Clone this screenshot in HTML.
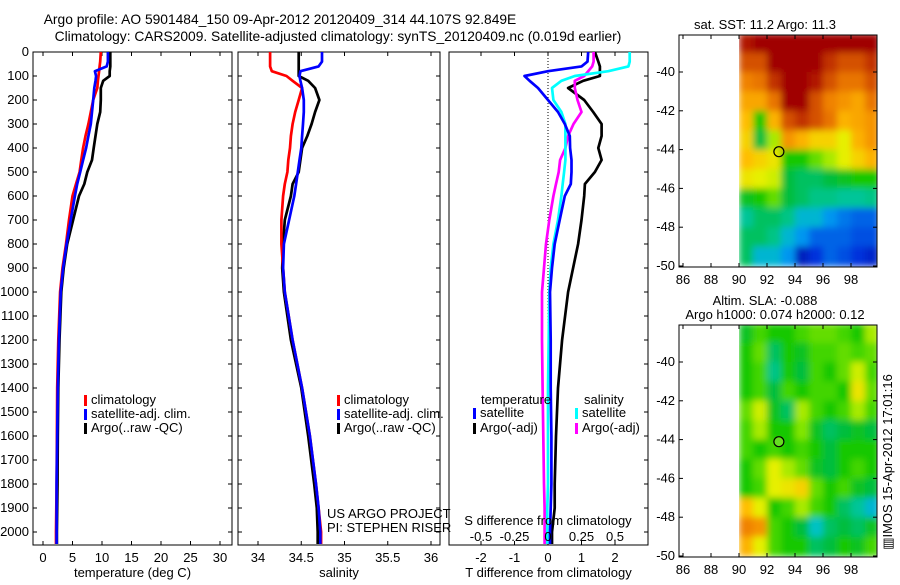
<!DOCTYPE html>
<html><head><meta charset="utf-8"><style>
body{margin:0;background:#fff;width:900px;height:580px;overflow:hidden}
svg{font-family:"Liberation Sans",sans-serif;font-size:13px}
</style></head><body>
<svg id="c" width="900" height="580" xmlns="http://www.w3.org/2000/svg">
<defs><filter id="bl" x="0" y="0" width="1" height="1"><feGaussianBlur stdDeviation="3.5" edgeMode="duplicate"/></filter></defs>
</svg>
<script>
const depths=[0,40,60,80,100,120,150,200,250,300,350,400,450,500,550,600,700,800,900,1000,1200,1400,1600,1800,1900,2000,2050];
const tempClim=[9.8,9.7,9.6,9.5,9.4,9.3,9.2,8.5,8.1,7.7,7.2,6.8,6.5,6.2,5.6,5.0,4.4,3.9,3.3,2.9,2.6,2.4,2.35,2.3,2.25,2.2,2.2];
const tempSat=[11.0,11.0,10.8,8.8,9.0,8.9,8.7,8.5,8.3,8.1,7.7,7.3,6.8,6.3,5.8,5.4,4.7,4.0,3.4,3.0,2.7,2.5,2.4,2.3,2.3,2.3,2.3];
const tempArgo=[11.4,11.4,11.4,11.3,11.3,10.2,9.8,9.8,9.7,9.2,8.9,8.6,8.3,7.5,7.0,6.1,5.1,4.1,3.5,3.1,2.8,2.6,2.5,2.45,2.4,2.35,2.35];
const salClim=[34.14,34.14,34.14,34.16,34.33,34.40,34.51,34.47,34.43,34.40,34.38,34.37,34.35,34.34,34.31,34.29,34.27,34.27,34.29,34.31,34.40,34.51,34.60,34.67,34.70,34.73,34.73];
const salSat=[34.74,34.74,34.70,34.49,34.48,34.49,34.51,34.53,34.53,34.52,34.51,34.50,34.48,34.46,34.44,34.42,34.36,34.30,34.29,34.31,34.40,34.51,34.60,34.67,34.70,34.72,34.72];
const salArgo=[34.47,34.47,34.47,34.47,34.47,34.58,34.66,34.71,34.66,34.62,34.57,34.51,34.49,34.47,34.40,34.38,34.31,34.29,34.28,34.30,34.38,34.50,34.58,34.65,34.68,34.69,34.69];
const dTsat=[1.2,1.18,1.0,0.0,-0.7,-0.55,-0.3,0.0,0.3,0.5,0.65,0.66,0.7,0.7,0.68,0.5,0.35,0.2,0.12,0.06,0.08,0.08,0.1,0.1,0.08,0.06,0.06];
const dTargo=[1.4,1.5,1.55,1.55,1.55,1.05,0.6,1.08,1.35,1.6,1.6,1.5,1.6,1.4,1.1,1.08,1.0,0.9,0.75,0.6,0.42,0.3,0.24,0.2,0.2,0.12,0.12];
const dSsat=[0.61,0.61,0.6,0.45,0.2,0.1,0.03,0.04,0.1,0.13,0.13,0.13,0.13,0.12,0.11,0.1,0.075,0.04,0.02,0.01,0.005,0.0,0.0,0.0,-0.005,-0.005,-0.005];
const dSargo=[0.34,0.34,0.33,0.3,0.27,0.2,0.2,0.22,0.25,0.19,0.15,0.13,0.09,0.08,0.06,0.04,0.01,-0.015,-0.03,-0.045,-0.045,-0.04,-0.035,-0.03,-0.025,-0.025,-0.025];
const depthTicks=[0,100,200,300,400,500,600,700,800,900,1000,1100,1200,1300,1400,1500,1600,1700,1800,1900,2000];
const tempTicks=[0,5,10,15,20,25,30];
const salTicks=[34,34.5,35,35.5,36];
const dTTicks=[-2,-1,0,1,2];
const dSTicks=[-0.5,-0.25,0,0.25,0.5];
const latTicks=[-40,-42,-44,-46,-48,-50];
const lonTicks=[86,88,90,92,94,96,98];
const sstGrid=[
[0.95,1,1,1,1,1,1,1,1,1],
[0.85,0.85,1,1,1,1,0.9,0.85,0.85,0.9],
[0.78,0.8,0.9,1,1,0.95,0.85,0.8,0.8,0.85],
[0.72,0.72,0.8,1,1,0.85,0.78,0.75,0.72,0.8],
[0.68,0.45,0.7,0.85,0.9,0.85,0.8,0.7,0.72,0.75],
[0.65,0.4,0.55,0.75,0.7,0.65,0.65,0.6,0.7,0.75],
[0.68,0.65,0.62,0.45,0.45,0.5,0.55,0.6,0.65,0.7],
[0.62,0.6,0.58,0.4,0.38,0.38,0.4,0.42,0.45,0.45],
[0.42,0.45,0.5,0.4,0.38,0.36,0.36,0.35,0.35,0.36],
[0.35,0.38,0.38,0.36,0.3,0.3,0.25,0.22,0.2,0.2],
[0.38,0.38,0.36,0.3,0.25,0.2,0.2,0.2,0.18,0.18],
[0.38,0.3,0.3,0.25,0.1,0.15,0.2,0.18,0.15,0.12]];
const slaGrid=[
[0.42,0.48,0.45,0.45,0.48,0.5,0.5,0.48,0.45,0.55],
[0.45,0.5,0.38,0.45,0.42,0.48,0.48,0.5,0.48,0.5],
[0.45,0.48,0.36,0.45,0.4,0.48,0.45,0.5,0.58,0.48],
[0.45,0.48,0.4,0.48,0.45,0.48,0.48,0.45,0.62,0.5],
[0.5,0.58,0.42,0.38,0.55,0.48,0.45,0.48,0.55,0.48],
[0.48,0.55,0.45,0.45,0.52,0.42,0.38,0.4,0.42,0.4],
[0.48,0.45,0.48,0.45,0.48,0.45,0.4,0.45,0.45,0.45],
[0.45,0.5,0.6,0.55,0.5,0.42,0.4,0.45,0.48,0.45],
[0.45,0.48,0.6,0.62,0.65,0.5,0.45,0.48,0.42,0.4],
[0.68,0.6,0.45,0.48,0.55,0.48,0.45,0.38,0.35,0.3],
[0.78,0.75,0.48,0.45,0.4,0.32,0.38,0.4,0.38,0.42],
[0.7,0.6,0.48,0.45,0.45,0.38,0.4,0.45,0.42,0.48]];
const argoLon=92.849, argoLat=-44.107;

const NS="http://www.w3.org/2000/svg";
const svg=document.getElementById('c');
function mk(tag,attrs,parent){const e=document.createElementNS(NS,tag);for(const k in attrs)e.setAttribute(k,attrs[k]);(parent||svg).appendChild(e);return e;}
function txt(x,y,s,anchor,parent){const t=mk('text',{x:x,y:y,'text-anchor':anchor||'middle',fill:'#000'},parent);t.textContent=s;return t;}

const yD=d=>52+d*0.24;
const TOP=52,BOT=545;
const panels=[
 {name:'temperature-panel',x0:33,x1:232,sx:v=>43+v*5.9,ticks:tempTicks,label:'temperature (deg C)'},
 {name:'salinity-panel',x0:238,x1:440,sx:v=>258+(v-34)*86.5,ticks:salTicks,label:'salinity'},
 {name:'difference-panel',x0:449,x1:648,sx:v=>548+v*33.5,ticks:dTTicks,label:'T difference from climatology'}];
panels.forEach((p,i)=>{
 const g=mk('g',{});
 
 
 mk('rect',{x:p.x0,y:TOP,width:p.x1-p.x0,height:BOT-TOP,fill:'none',stroke:'#000','stroke-width':1},g);
 p.ticks.forEach(t=>{const x=p.sx(t);
  mk('line',{x1:x,x2:x,y1:BOT,y2:BOT-4,stroke:'#000'},g);
  mk('line',{x1:x,x2:x,y1:TOP,y2:TOP+4,stroke:'#000'},g);
  const l=txt(x,562,String(t),'middle',g);
  
  
 });
 const xl=txt((p.x0+p.x1)/2,577,p.label,'middle',g);
 
 
 depthTicks.forEach(d=>{const y=yD(d);
  if(i==2){mk('line',{x1:p.x1,x2:p.x1-4,y1:y,y2:y,stroke:'#000'},g);}
  else{mk('line',{x1:p.x0,x2:p.x0+4,y1:y,y2:y,stroke:'#000'},g);mk('line',{x1:p.x1,x2:p.x1-4,y1:y,y2:y,stroke:'#000'},g);}
  if(i==0){const l=txt(29,y+4,String(d),'end',g);}
 });
});
const zl=mk('line',{x1:548,x2:548,y1:TOP,y2:BOT,stroke:'#000','stroke-dasharray':'1,2'});



function series(vals,sx,color,name){
 const pts=vals.map((v,k)=>sx(v).toFixed(1)+','+yD(depths[k]).toFixed(1)).join(' ');
 const pl=mk('polyline',{points:pts,fill:'none',stroke:color,'stroke-width':2.7,'stroke-linejoin':'round'});
 
 
}
const sT=panels[0].sx,sS=panels[1].sx,sD=panels[2].sx,sDS=v=>548+v*134;
series(tempArgo,sT,'#000','argo-temperature-line');
series(tempClim,sT,'#f00','climatology-temperature-line');
series(tempSat,sT,'#00f','satellite-temperature-line');
series(salArgo,sS,'#000','argo-salinity-line');
series(salClim,sS,'#f00','climatology-salinity-line');
series(salSat,sS,'#00f','satellite-salinity-line');
series(dTargo,sD,'#000','argo-t-diff-line');
series(dSargo,sDS,'#f0f','argo-s-diff-line');
series(dSsat,sDS,'#0ff','satellite-s-diff-line');
series(dTsat,sD,'#00f','satellite-t-diff-line');

function legend(x,y,color,label,name){
 const g=mk('g',{});
 
 
 mk('rect',{x:x,y:y-9,width:3,height:11,fill:color},g);
 txt(x+7,y,label,'start',g);
}
[[84,'#f00','climatology'],[84,'#00f','satellite-adj. clim.'],[84,'#000','Argo(..raw -QC)']].forEach((l,k)=>legend(l[0],404+k*14,l[1],l[2],'temp-legend-entry'));
[[337,'#f00','climatology'],[337,'#00f','satellite-adj. clim.'],[337,'#000','Argo(..raw -QC)']].forEach((l,k)=>legend(l[0],404+k*14,l[1],l[2],'sal-legend-entry'));
txt(481,404,'temperature','start');
txt(584,404,'salinity','start');
legend(473,417,'#00f','satellite','t-sat-legend');
legend(473,432,'#000','Argo(-adj)','t-argo-legend');
legend(575,417,'#0ff','satellite','s-sat-legend');
legend(575,432,'#f0f','Argo(-adj)','s-argo-legend');
txt(327,518,'US ARGO PROJECT','start');
txt(327,532,'PI: STEPHEN RISER','start');
txt(548,525,'S difference from climatology','middle');
dSTicks.forEach(t=>{const l=txt(sDS(t),541,String(t),'middle');});

const t1=txt(280,24,'Argo profile: AO 5901484_150 09-Apr-2012 20120409_314 44.107S 92.849E','middle');
t1.setAttribute('font-size','13.8');

const t2=txt(338,41,'Climatology: CARS2009. Satellite-adjusted climatology: synTS_20120409.nc (0.019d earlier)','middle');
t2.setAttribute('font-size','13.8');


const cmapStops=[[0,[0,0,130]],[0.15,[0,50,220]],[0.25,[0,150,240]],[0.33,[0,200,190]],[0.4,[0,190,60]],[0.45,[20,200,0]],[0.52,[130,230,0]],[0.6,[230,240,0]],[0.68,[255,190,0]],[0.78,[240,130,0]],[0.88,[200,60,0]],[1,[160,0,0]]];
function cmap(v){v=Math.max(0,Math.min(1,v));
 for(let i=1;i<cmapStops.length;i++){const a=cmapStops[i-1],b=cmapStops[i];
  if(v<=b[0]){const f=(v-a[0])/(b[0]-a[0]);return 'rgb('+a[1].map((c,k)=>Math.round(c+(b[1][k]-c)*f)).join(',')+')';}}
 return 'rgb(160,0,0)';}
function map(top,grid,name,titles,dotColor){
 const lx=l=>683+(l-86)*14, ly=a=>top+37+(-40-a)*19.4;
 const g=mk('g',{});
 
 
 const y0=top, y1=ly(-50)+1;
 const cid='clip'+top;
 const cp=mk('clipPath',{id:cid},g);
 mk('rect',{x:lx(90),y:y0,width:877-lx(90),height:y1-y0},cp);
 const outer=mk('g',{'clip-path':'url(#'+cid+')'},g);
 const cells=mk('g',{filter:'url(#bl)'},outer);
 grid.forEach((row,r)=>row.forEach((v,c)=>{
  const ya=ly(-38-r), yb=ly(-39-r);
  const cell=mk('rect',{x:lx(90+c),y:ya,width:14.6,height:yb-ya+0.6,fill:cmap(v)},cells);
  
  
 }));
 mk('rect',{x:679,y:y0,width:198,height:y1-y0,fill:'none',stroke:'#000'},g);
 latTicks.forEach(a=>{const y=ly(a);mk('line',{x1:679,x2:683,y1:y,y2:y,stroke:'#000'},g);mk('line',{x1:877,x2:873,y1:y,y2:y,stroke:'#000'},g);txt(675,y+4,String(a),'end',g);});
 lonTicks.forEach(l=>{const x=lx(l);mk('line',{x1:x,x2:x,y1:y1,y2:y1-4,stroke:'#000'},g);mk('line',{x1:x,x2:x,y1:y0,y2:y0+4,stroke:'#000'},g);txt(x,y1+17,String(l),'middle',g);});
 titles.forEach((s,k)=>txt(titles.length>1&&k==1?775:765,y0-6-(titles.length-1-k)*14,s,'middle',g));
 const dot=mk('circle',{cx:lx(argoLon),cy:ly(argoLat),r:5,fill:dotColor,stroke:'#000','stroke-width':1.2},g);
 
 
}
map(35,sstGrid,'sst-map',['sat. SST: 11.2 Argo: 11.3'],'none');
map(325,slaGrid,'sla-map',['Altim. SLA: -0.088','Argo h1000: 0.074 h2000: 0.12'],'#66dd22');
const im=txt(0,0,'\u25a5IMOS 15-Apr-2012 17:01:16','middle');
im.setAttribute('transform','translate(892,462) rotate(-90)');


</script>
</body></html>
